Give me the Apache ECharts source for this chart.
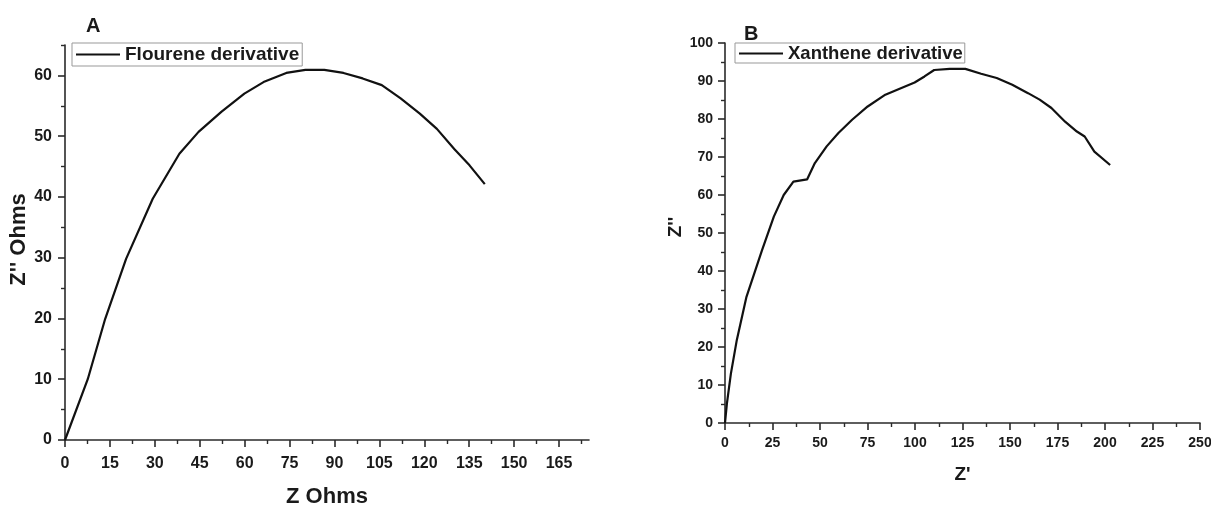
<!DOCTYPE html>
<html>
<head>
<meta charset="utf-8">
<script src="https://cdn.jsdelivr.net/npm/echarts@6/dist/echarts.min.js"></script>
<style>
html,body{margin:0;padding:0;background:#fff;}
#chart{width:1211px;height:506px;}
</style>
</head>
<body>
<div id="chart"></div>
<script>
// ---- Data: panel A (Flourene derivative) ----
const fluoreneZ  = [0, 7.6, 13.4, 20.4, 29.3, 38.2, 44.6, 52.2, 59.9, 66.3, 73.9, 80.3, 86.6, 93.0, 99.4, 105.8, 112.1, 118.5, 124.2, 130.0, 135.1, 140.2];
const fluoreneZ2 = [0, 10.0, 19.9, 29.8, 39.7, 47.1, 50.7, 54.0, 57.0, 58.9, 60.4, 60.9, 60.9, 60.4, 59.5, 58.4, 56.2, 53.7, 51.2, 47.9, 45.2, 42.1];
// ---- Data: panel B (Xanthene derivative) ----
const xantheneZ  = [0, 1.0, 3.1, 6.2, 11.3, 19.5, 25.7, 30.9, 36.0, 43.2, 47.3, 53.5, 59.7, 66.9, 75.1, 84.4, 91.6, 99.8, 105.0, 110.1, 118.3, 126.5, 134.8, 143.0, 151.2, 159.5, 165.6, 171.8, 179.0, 185.2, 189.3, 194.4, 202.7];
const xantheneZ2 = [0, 5.1, 13.0, 21.8, 33.2, 45.5, 54.3, 60.0, 63.5, 64.1, 68.4, 72.8, 76.3, 79.8, 83.3, 86.4, 87.9, 89.6, 91.2, 92.9, 93.2, 93.2, 91.9, 90.8, 89.0, 86.8, 85.1, 82.9, 79.3, 76.7, 75.4, 71.4, 67.9];

// ---- Tick values ----
const aXMajor = [0, 15, 30, 45, 60, 75, 90, 105, 120, 135, 150, 165];
const aXMinor = [7.5, 22.5, 37.5, 52.5, 67.5, 82.5, 97.5, 112.5, 127.5, 142.5, 157.5, 172.5];
const aYMajor = [0, 10, 20, 30, 40, 50, 60];
const aYMinor = [5, 15, 25, 35, 45, 55, 65];
const bXMajor = [0, 25, 50, 75, 100, 125, 150, 175, 200, 225, 250];
const bXMinor = [12.5, 37.5, 62.5, 87.5, 112.5, 137.5, 162.5, 187.5, 212.5, 237.5];
const bYMajor = [0, 10, 20, 30, 40, 50, 60, 70, 80, 90, 100];
const bYMinor = [5, 15, 25, 35, 45, 55, 65, 75, 85, 95];

const zip = (a, b) => a.map((v, i) => [v, b[i]]);

const FONT = '"Liberation Sans", Arial, sans-serif';
const AX = '#2a2a2a';
const TXT = '#1a1a1a';

function majorAxis(o) {
  return Object.assign({
    type: 'value',
    axisLine: { show: true, onZero: false, lineStyle: { color: AX, width: 1.6 } },
    axisTick: { show: true, inside: false, length: 7, customValues: o.ticks, lineStyle: { color: AX, width: 1.6 } },
    axisLabel: { show: true, customValues: o.ticks, margin: o.margin, color: TXT, fontFamily: FONT, fontWeight: 'bold', fontSize: o.fs },
    splitLine: { show: false }
  }, o.extra);
}
function minorAxis(o) {
  return Object.assign({
    type: 'value',
    axisLine: { show: false },
    axisTick: { show: true, inside: false, length: 4, customValues: o.ticks, lineStyle: { color: AX, width: 1.4 } },
    axisLabel: { show: false },
    splitLine: { show: false }
  }, o.extra);
}

const option = {
  backgroundColor: '#fff',
  animation: false,
  title: [
    { text: 'A', left: 81, top: 11, textStyle: { fontFamily: FONT, fontWeight: 'bold', fontSize: 20, color: TXT } },
    { text: 'B', left: 739, top: 19, textStyle: { fontFamily: FONT, fontWeight: 'bold', fontSize: 20, color: TXT } }
  ],
  grid: [
    { left: 65, top: 45, width: 524, height: 395, containLabel: false, outerBoundsMode: 'none' },
    { left: 725, top: 43, width: 475, height: 380, containLabel: false, outerBoundsMode: 'none' }
  ],
  legend: [
    {
      data: ['Flourene derivative'], left: 72, top: 43, orient: 'horizontal',
      icon: 'rect', itemWidth: 44, itemHeight: 2, itemGap: 5,
      padding: [2, 3, 2, 4], borderColor: '#999', borderWidth: 1,
      textStyle: { fontFamily: FONT, fontWeight: 'bold', fontSize: 19, color: TXT }
    },
    {
      data: ['Xanthene derivative'], left: 735, top: 43, orient: 'horizontal',
      icon: 'rect', itemWidth: 44, itemHeight: 2, itemGap: 5,
      padding: [1, 2, 0, 4], borderColor: '#999', borderWidth: 1,
      textStyle: { fontFamily: FONT, fontWeight: 'bold', fontSize: 18.5, color: TXT }
    }
  ],
  xAxis: [
    majorAxis({ ticks: aXMajor, margin: 16, fs: 16, extra: { gridIndex: 0, position: 'bottom', min: 0, max: 175,
      name: 'Z Ohms', nameLocation: 'middle', nameGap: 46,
      nameTextStyle: { fontFamily: FONT, fontWeight: 'bold', fontSize: 22, color: TXT } } }),
    minorAxis({ ticks: aXMinor, extra: { gridIndex: 0, position: 'bottom', min: 0, max: 175 } }),
    majorAxis({ ticks: bXMajor, margin: 13, fs: 14, extra: { gridIndex: 1, position: 'bottom', min: 0, max: 250,
      name: "Z'", nameLocation: 'middle', nameGap: 42,
      nameTextStyle: { fontFamily: FONT, fontWeight: 'bold', fontSize: 19, color: TXT } } }),
    minorAxis({ ticks: bXMinor, extra: { gridIndex: 1, position: 'bottom', min: 0, max: 250 } })
  ],
  yAxis: [
    majorAxis({ ticks: aYMajor, margin: 13, fs: 16, extra: { gridIndex: 0, position: 'left', min: 0, max: 65,
      name: "Z'' Ohms", nameLocation: 'middle', nameGap: 33,
      nameTextStyle: { fontFamily: FONT, fontWeight: 'bold', fontSize: 22, color: TXT, padding: [0, 0, 0, 6] } } }),
    minorAxis({ ticks: aYMinor, extra: { gridIndex: 0, position: 'left', min: 0, max: 65 } }),
    majorAxis({ ticks: bYMajor, margin: 12, fs: 14, extra: { gridIndex: 1, position: 'left', min: 0, max: 100,
      name: "Z''", nameLocation: 'middle', nameGap: 40,
      nameTextStyle: { fontFamily: FONT, fontWeight: 'bold', fontSize: 19, color: TXT, padding: [0, 0, 0, 12] } } }),
    minorAxis({ ticks: bYMinor, extra: { gridIndex: 1, position: 'left', min: 0, max: 100 } })
  ],
  series: [
    {
      name: 'Flourene derivative', type: 'line', xAxisIndex: 0, yAxisIndex: 0,
      data: zip(fluoreneZ, fluoreneZ2), symbol: 'none', smooth: false,
      lineStyle: { color: '#111', width: 2.2 }, itemStyle: { color: '#111' }
    },
    {
      name: 'Xanthene derivative', type: 'line', xAxisIndex: 2, yAxisIndex: 2,
      data: zip(xantheneZ, xantheneZ2), symbol: 'none', smooth: false,
      lineStyle: { color: '#111', width: 2.2 }, itemStyle: { color: '#111' }
    }
  ]
};

const chart = echarts.init(document.getElementById('chart'), null, { renderer: 'canvas' });
chart.setOption(option);
</script>
</body>
</html>
